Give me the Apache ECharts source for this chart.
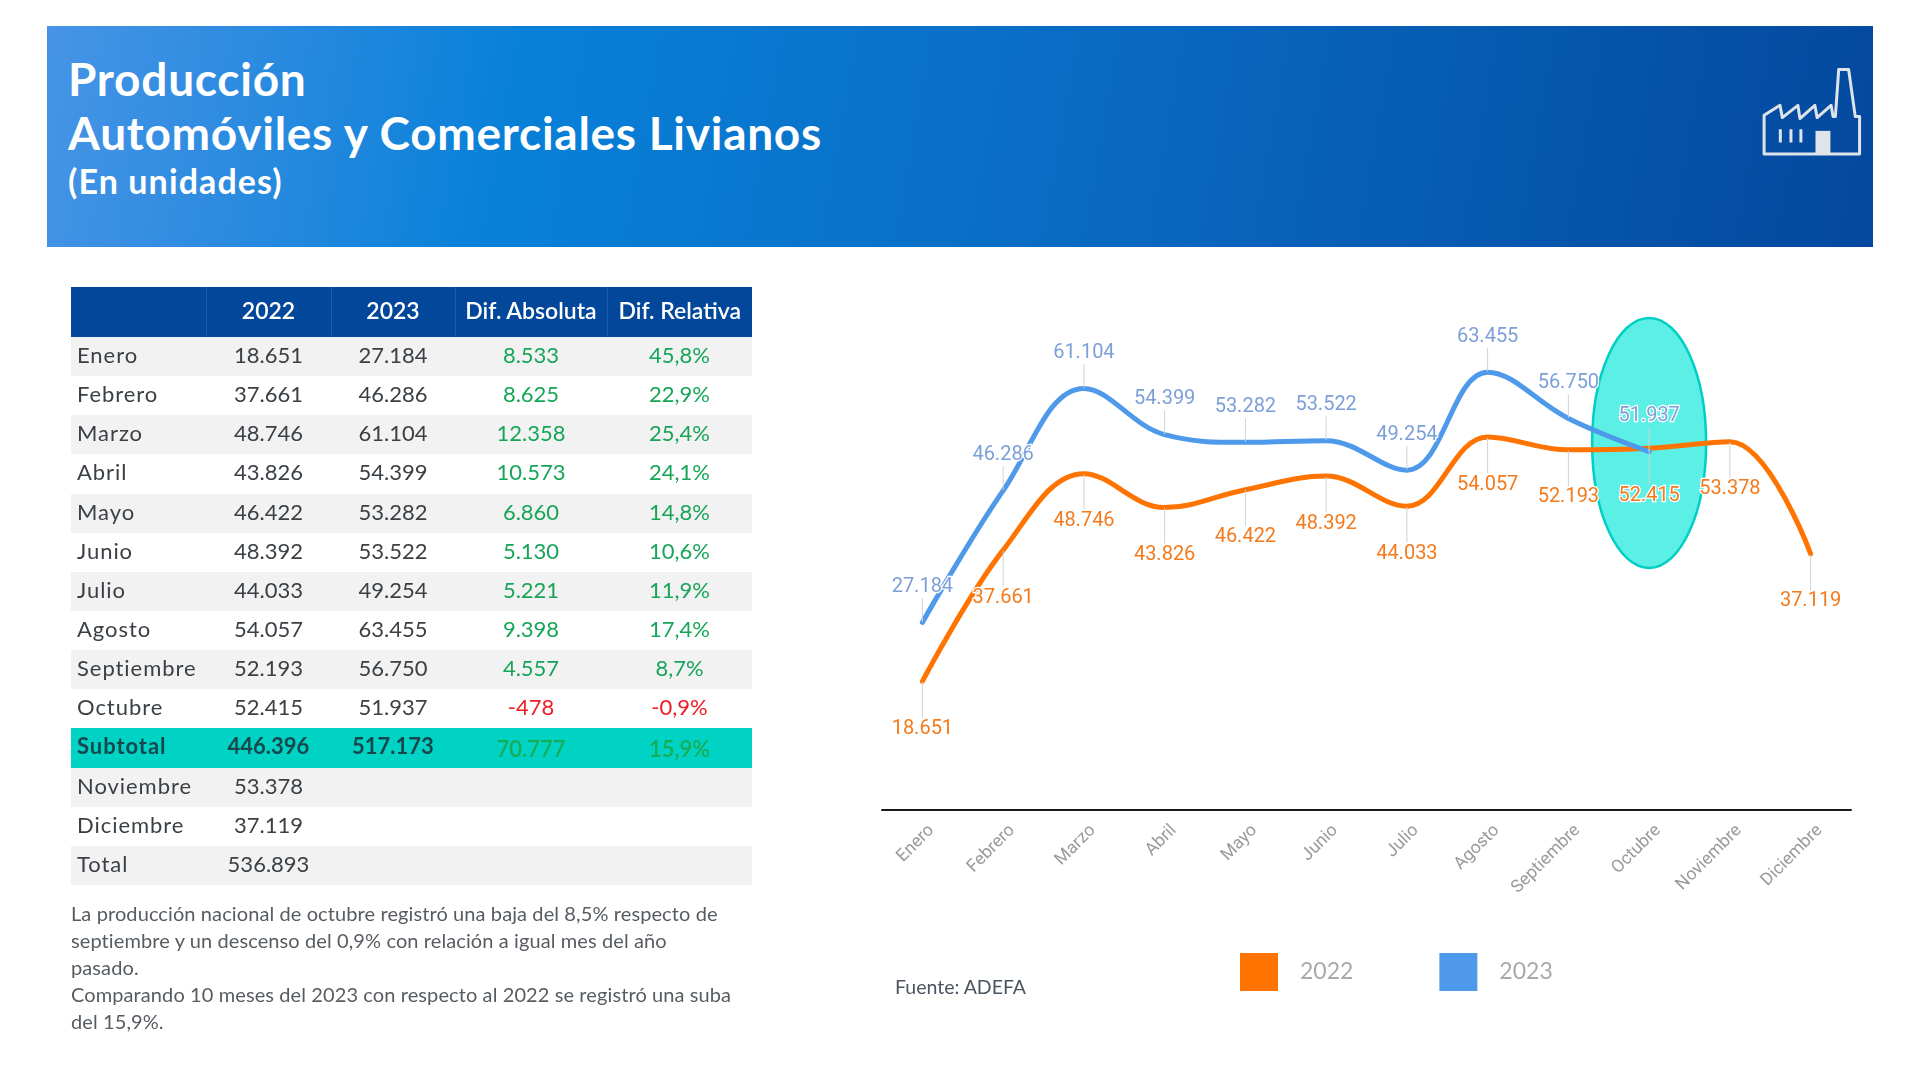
<!DOCTYPE html>
<html lang="es">
<head>
<meta charset="utf-8">
<title>Producción Automóviles y Comerciales Livianos</title>
<script src="https://cdn.jsdelivr.net/npm/echarts@6/dist/echarts.min.js"></script>
<style>
html,body{margin:0;padding:0;background:#fff;width:1920px;height:1080px;overflow:hidden;font-family:Lato,"Open Sans",sans-serif}
#chart{position:absolute;left:0;top:0;width:1920px;height:1080px}
#banner{position:absolute;left:47px;top:26px;width:1826px;height:221px;background:linear-gradient(100deg,#4794e6 0%,#0880d8 26%,#0a6cc4 55%,#03489e 100%)}
.t{position:absolute;left:21px;color:#fff;font-weight:700;white-space:nowrap;line-height:1}
#tbl{position:absolute;left:71px;top:287px;width:681px;border-collapse:collapse;table-layout:fixed;font-size:22px;color:#3b4045}
#tbl th{height:46px;padding:0 0 4px;background:#03479a;color:#fff;font-weight:600;font-size:23px;border-left:1px solid #1c5aa8}
#tbl th:first-child{border-left:0}
#tbl td{height:36.15px;padding:0 0 3px;text-align:center;line-height:1}
#tbl td:first-child{text-align:left;padding-left:6px;letter-spacing:.95px}
#tbl tr.s td{background:#f2f2f2}
#tbl .g{color:#17a558}
#tbl .r{color:#ee1c25}
#tbl tr.sub td{background:#00d3c4;font-weight:700;color:#17474d}
#tbl tr.sub td.g{color:#17ad57;font-weight:600;padding:3px 0 0;height:36.15px}
#note{position:absolute;left:71px;top:900px;font-size:20px;line-height:27px;color:#575c61;white-space:nowrap;letter-spacing:.1px}
#src{position:absolute;left:895px;top:975px;font-size:19.5px;line-height:24px;color:#4a5560;white-space:nowrap}
#icon{position:absolute;left:1721px;top:39px}
</style>
</head>
<body>
<div id="chart"></div>
<div id="banner">
  <div class="t" style="top:30px;font-size:46px;letter-spacing:.75px">Producción</div>
  <div class="t" style="top:84px;font-size:46px;letter-spacing:.72px">Automóviles y Comerciales Livianos</div>
  <div class="t" style="top:138px;font-size:34px;letter-spacing:1.1px">(En unidades)</div>
</div>
<svg id="icon" width="184" height="134" viewBox="0 0 555 400">
  <path d="M130 345V228L178 198 185 235 232 198 238 238 283 198 290 235 332 198 338 232H345L355 90H385L405 232H418V345Z" fill="none" stroke="#dfe4ea" stroke-width="9" stroke-linejoin="round"/>
  <path d="M179 270V310M211 270V310M241 270V310" stroke="#dfe4ea" stroke-width="9" fill="none"/>
  <rect x="285" y="275" width="45" height="70" fill="#dfe4ea"/>
</svg>
<table id="tbl">
  <colgroup><col style="width:135px"><col style="width:125px"><col style="width:124px"><col style="width:152px"><col style="width:145px"></colgroup>
  <thead><tr id="head"></tr></thead>
  <tbody id="body"></tbody>
</table>
<div id="note">La producción nacional de octubre registró una baja del 8,5% respecto de<br>septiembre y un descenso del 0,9% con relación a igual mes del año<br>pasado.<br>Comparando 10 meses del 2023 con respecto al 2022 se registró una suba<br>del 15,9%.</div>
<div id="src">Fuente: ADEFA</div>
<script>
const categories = ['Enero','Febrero','Marzo','Abril','Mayo','Junio','Julio','Agosto','Septiembre','Octubre','Noviembre','Diciembre'];
const values2022 = [18651,37661,48746,43826,46422,48392,44033,54057,52193,52415,53378,37119];
const values2023 = [27184,46286,61104,54399,53282,53522,49254,63455,56750,51937,null,null];
const tableHead = ['','2022','2023','Dif. Absoluta','Dif. Relativa'];
const difAbsoluta = ['8.533','8.625','12.358','10.573','6.860','5.130','5.221','9.398','4.557','-478'];
const difRelativa = ['45,8%','22,9%','25,4%','24,1%','14,8%','10,6%','11,9%','17,4%','8,7%','-0,9%'];
const subtotal = ['Subtotal','446.396','517.173','70.777','15,9%'];
const total = ['Total','536.893','','',''];
const highlightMonth = 'Octubre';
const highlightValue = 53200;

const fmt = v => v == null ? '' : String(v).replace(/\B(?=(\d{3})+$)/g, '.');

document.getElementById('head').innerHTML = tableHead.map(h => '<th>' + h + '</th>').join('');
const rows = [];
categories.forEach((c, i) => {
  if (i === 10) rows.push('<tr class="sub">' + subtotal.map((v, k) => '<td' + (k > 2 ? ' class="g"' : '') + '>' + v + '</td>').join('') + '</tr>');
  const cls = (i < 10 ? i % 2 === 0 : i === 10) ? 's' : '';
  const tone = i === 9 ? 'r' : 'g';
  rows.push('<tr class="' + cls + '"><td>' + c + '</td><td>' + fmt(values2022[i]) + '</td><td>' + fmt(values2023[i]) + '</td><td class="' + tone + '">' + (difAbsoluta[i] || '') + '</td><td class="' + tone + '">' + (difRelativa[i] || '') + '</td></tr>');
});
rows.push('<tr class="s">' + total.map(v => '<td>' + v + '</td>').join('') + '</tr>');
document.getElementById('body').innerHTML = rows.join('');

const chart = echarts.init(document.getElementById('chart'), null, {renderer: 'canvas'});
const lineSeries = (name, data, color, labelColor, pos, dy) => ({
  name, type: 'line', data, smooth: 0.38, z: 3,
  symbol: 'circle', symbolSize: 1, showAllSymbol: true,
  lineStyle: {color, width: 5, cap: 'round'},
  itemStyle: {color},
  emphasis: {disabled: true},
  label: {
    show: true, position: pos, distance: 4,
    formatter: p => fmt(p.value),
    fontFamily: 'Roboto', fontSize: 20, color: labelColor,
    textBorderColor: '#fff', textBorderWidth: 2.5
  },
  labelLine: {show: true, lineStyle: {color: '#cfd3d6', width: 1}},
  labelLayout: {dy, hideOverlap: false, moveOverlap: false}
});
chart.setOption({
  animation: false,
  backgroundColor: 'transparent',
  color: ['#ff7300', '#4f99ea'],
  grid: {left: 882, top: 258, width: 969, height: 552, containLabel: false},
  legend: {
    left: 1235, top: 948, itemWidth: 38, itemHeight: 38, itemGap: 86,
    icon: 'rect', selectedMode: false, data: ['2022', '2023'],
    textStyle: {color: '#a9a9a9', fontSize: 23, fontFamily: 'Lato', padding: [4, 0, 0, 17]}
  },
  xAxis: {
    type: 'category', data: categories, boundaryGap: true,
    axisLine: {lineStyle: {color: '#1a1a1a', width: 2}},
    axisTick: {show: false},
    axisLabel: {rotate: 45, interval: 0, color: '#9a9a9a', fontSize: 17.5, fontFamily: 'Roboto', margin: 27, padding: [0, -13, 0, 0]}
  },
  yAxis: {type: 'value', min: 0, max: 80000, show: false, splitLine: {show: false}},
  series: [
    {
      type: 'custom', silent: true, z: 1, coordinateSystem: 'cartesian2d',
      data: [[highlightMonth, highlightValue]],
      renderItem: (params, api) => {
        const c = api.coord([api.value(0), api.value(1)]);
        return {type: 'ellipse', shape: {cx: c[0], cy: c[1], rx: 57, ry: 125},
          style: {fill: '#5cefe6', stroke: '#00cfc4', lineWidth: 2.5}};
      }
    },
    lineSeries('2022', values2022, '#ff7300', '#f47a1c', 'bottom', 33),
    lineSeries('2023', values2023, '#4f99ea', '#7d9fd8', 'top', -21)
  ]
});
</script>
</body>
</html>
